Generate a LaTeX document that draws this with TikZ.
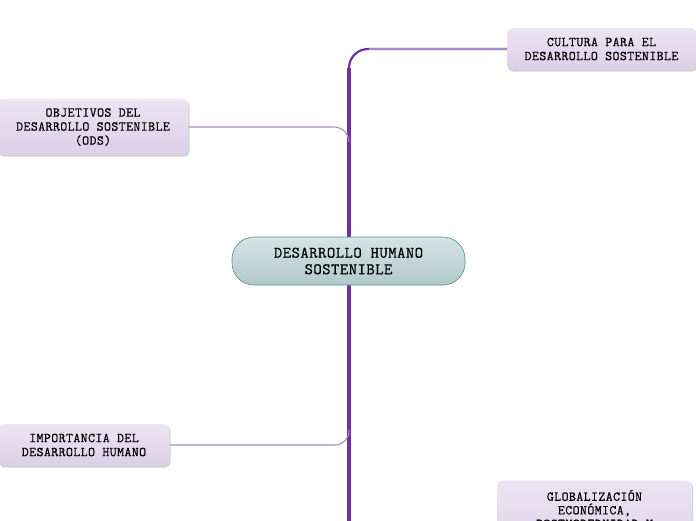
\documentclass[tikz,border=0pt]{standalone}
\usepackage{fontspec}
\newfontfamily\mapfont{Latin Modern Mono}[LetterSpace=3,FakeBold=0.6]
\usetikzlibrary{shadows}

\definecolor{trunkpurple}{HTML}{7030A0}
\definecolor{branchpurple}{HTML}{A68BC9}
\definecolor{topicfill}{HTML}{DCCFE8}
\definecolor{maintop}{HTML}{D5E4E4}
\definecolor{mainbottom}{HTML}{B2C9C9}
\definecolor{mainedge}{HTML}{4E8E8E}

\tikzset{
    topic/.style={
        top color=topicfill!55!white, bottom color=topicfill,
        rounded corners=5pt, align=center, inner sep=0pt,
        font=\fontsize{13.5}{14}\selectfont\mapfont,
        drop shadow={shadow xshift=1pt, shadow yshift=-1.5pt,
            fill=black!40, opacity=0.45}
    },
    maintopic/.style={
        top color=maintop, bottom color=mainbottom,
        draw=mainedge, line width=0.6pt,
        rounded corners=22pt, align=center, inner sep=0pt,
        font=\fontsize{16.2}{16.5}\selectfont\mapfont,
        minimum width=233pt, minimum height=48pt
    },
    trunk/.style={draw=trunkpurple, line width=4pt},
    branch/.style={draw=branchpurple, line width=1.1pt}
}

\begin{document}
\begin{tikzpicture}[x=1pt,y=-1pt]

\useasboundingbox (0,0) rectangle (696,520);
\clip (0,0) rectangle (696,520);

% Topics
\node[topic, minimum width=189pt, minimum height=42pt] (cultura) at (601.5,49)
    {CULTURA PARA EL\\DESARROLLO SOSTENIBLE};
\node[topic, minimum width=191pt, minimum height=56pt] (ods) at (93,127)
    {OBJETIVOS DEL\\DESARROLLO SOSTENIBLE\\(ODS)};
\node[topic, minimum width=171pt, minimum height=42pt] (importancia) at (84,445)
    {IMPORTANCIA DEL\\DESARROLLO HUMANO};
\node[topic, minimum width=195pt, minimum height=84pt, anchor=north,
      font=\fontsize{13.5}{13.6}\selectfont\mapfont] (globalizacion) at (594.5,480.5)
    {GLOBALIZACIÓN\\ECONÓMICA,\\POSTMODERNIDAD Y\\[14pt]};

% Trunk
\coordinate (bend) at (349,68);
\coordinate (bendtop) at (349,70);
\coordinate (trunkbot) at (349,600);
\draw[trunk] (trunkbot) -- (bend);
\draw[draw=trunkpurple, line width=2.2pt, rounded corners=19pt]
    (bendtop) |- (cultura.west);
\draw[branch] (cultura.west) -- +(-138,0);

% Branches
\coordinate (odsjoin) at (349,142);
\coordinate (importanciajoin) at (349,430);
\coordinate (globjoin) at (349,540);
\draw[branch, rounded corners=15pt] (ods.east) -| (odsjoin);
\draw[branch, rounded corners=14pt] (importancia.east) -| (importanciajoin);
\draw[branch, rounded corners=14pt] (globalizacion.west) -| (globjoin);

% Center
\node[maintopic] (centro) at (348.5,261) {DESARROLLO HUMANO\\SOSTENIBLE};

\end{tikzpicture}
\end{document}
